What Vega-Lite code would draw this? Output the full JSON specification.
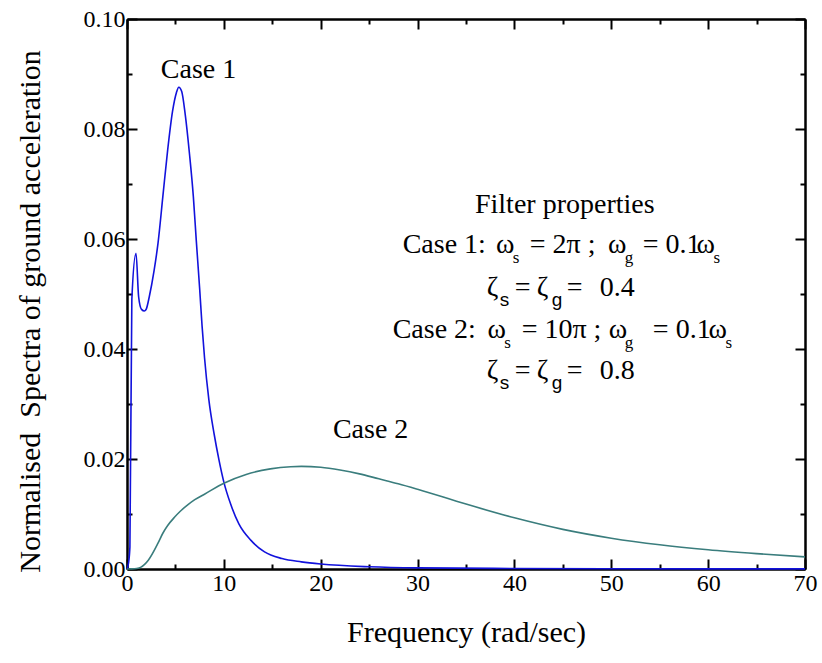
{
  "$schema": "https://vega.github.io/schema/vega-lite/v6.json",
  "width": 678,
  "height": 550,
  "autosize": "none",
  "padding": {"left": 127, "top": 19, "right": 17, "bottom": 94},
  "background": "white",
  "config": {
    "font": "Liberation Serif",
    "view": {"stroke": null}
  },
  "resolve": {"axis": {"x": "independent", "y": "independent"}},
  "layer": [
    {
      "data": {"values": [
        {"series": "Case 1", "f": 0, "s": 0},
        {"series": "Case 1", "f": 0.15, "s": 0.001},
        {"series": "Case 1", "f": 0.3, "s": 0.004},
        {"series": "Case 1", "f": 0.5, "s": 0.049},
        {"series": "Case 1", "f": 0.93, "s": 0.0574},
        {"series": "Case 1", "f": 1.2, "s": 0.0495},
        {"series": "Case 1", "f": 1.5, "s": 0.0472},
        {"series": "Case 1", "f": 1.8, "s": 0.0469},
        {"series": "Case 1", "f": 2.0, "s": 0.0473},
        {"series": "Case 1", "f": 2.3, "s": 0.0495},
        {"series": "Case 1", "f": 2.8, "s": 0.0543},
        {"series": "Case 1", "f": 3.2, "s": 0.0592},
        {"series": "Case 1", "f": 3.7, "s": 0.0677},
        {"series": "Case 1", "f": 4.2, "s": 0.0762},
        {"series": "Case 1", "f": 4.7, "s": 0.0832},
        {"series": "Case 1", "f": 5.1, "s": 0.0866},
        {"series": "Case 1", "f": 5.35, "s": 0.0876},
        {"series": "Case 1", "f": 5.65, "s": 0.0868},
        {"series": "Case 1", "f": 6.0, "s": 0.0828},
        {"series": "Case 1", "f": 6.45, "s": 0.0755},
        {"series": "Case 1", "f": 6.85, "s": 0.0677},
        {"series": "Case 1", "f": 7.15, "s": 0.0598},
        {"series": "Case 1", "f": 7.5, "s": 0.051},
        {"series": "Case 1", "f": 7.75, "s": 0.0442},
        {"series": "Case 1", "f": 8.0, "s": 0.0385},
        {"series": "Case 1", "f": 8.45, "s": 0.0308},
        {"series": "Case 1", "f": 9.0, "s": 0.0245},
        {"series": "Case 1", "f": 9.5, "s": 0.0198},
        {"series": "Case 1", "f": 10.0, "s": 0.0158},
        {"series": "Case 1", "f": 10.7, "s": 0.0118},
        {"series": "Case 1", "f": 11.55, "s": 0.0082},
        {"series": "Case 1", "f": 12.8, "s": 0.0052},
        {"series": "Case 1", "f": 14.2, "s": 0.0031},
        {"series": "Case 1", "f": 16, "s": 0.0019},
        {"series": "Case 1", "f": 18, "s": 0.0013},
        {"series": "Case 1", "f": 20, "s": 0.0009},
        {"series": "Case 1", "f": 25, "s": 0.0004},
        {"series": "Case 1", "f": 30, "s": 0.0002},
        {"series": "Case 1", "f": 40, "s": 0.0001},
        {"series": "Case 1", "f": 50, "s": 0.00005},
        {"series": "Case 1", "f": 70, "s": 0.00002},
        {"series": "Case 2", "f": 0, "s": 0},
        {"series": "Case 2", "f": 0.5, "s": 0.00002},
        {"series": "Case 2", "f": 1.0, "s": 0.0001},
        {"series": "Case 2", "f": 1.4, "s": 0.0003},
        {"series": "Case 2", "f": 2.2, "s": 0.0016},
        {"series": "Case 2", "f": 3.2, "s": 0.0047},
        {"series": "Case 2", "f": 3.7, "s": 0.0065},
        {"series": "Case 2", "f": 4.2, "s": 0.0079},
        {"series": "Case 2", "f": 4.9, "s": 0.0094},
        {"series": "Case 2", "f": 5.5, "s": 0.0105},
        {"series": "Case 2", "f": 6.3, "s": 0.0117},
        {"series": "Case 2", "f": 7, "s": 0.0126},
        {"series": "Case 2", "f": 8, "s": 0.0136},
        {"series": "Case 2", "f": 10, "s": 0.0156},
        {"series": "Case 2", "f": 12.3, "s": 0.0172},
        {"series": "Case 2", "f": 14.8, "s": 0.0182},
        {"series": "Case 2", "f": 16.9, "s": 0.0186},
        {"series": "Case 2", "f": 18, "s": 0.01866},
        {"series": "Case 2", "f": 20, "s": 0.0185},
        {"series": "Case 2", "f": 22, "s": 0.018},
        {"series": "Case 2", "f": 24, "s": 0.0173},
        {"series": "Case 2", "f": 26, "s": 0.0164},
        {"series": "Case 2", "f": 28, "s": 0.0155},
        {"series": "Case 2", "f": 30, "s": 0.0145},
        {"series": "Case 2", "f": 35, "s": 0.0118},
        {"series": "Case 2", "f": 40, "s": 0.0093},
        {"series": "Case 2", "f": 45, "s": 0.0072},
        {"series": "Case 2", "f": 50, "s": 0.0056},
        {"series": "Case 2", "f": 55, "s": 0.0044},
        {"series": "Case 2", "f": 60, "s": 0.0035},
        {"series": "Case 2", "f": 65, "s": 0.0028},
        {"series": "Case 2", "f": 70, "s": 0.0022}
      ]},
      "mark": {"type": "line", "strokeWidth": 1.6, "interpolate": "monotone"},
      "encoding": {
        "x": {"field": "f", "type": "quantitative",
          "scale": {"domain": [0, 70], "nice": false, "zero": false},
          "axis": {"orient": "bottom", "values": [0, 10, 20, 30, 40, 50, 60, 70], "tickSize": -10, "labelPadding": 12, "format": "d", "labelFlush": false, "labelOverlap": false,
            "title": "Frequency (rad/sec)", "titleBaseline": "middle", "titleY": 63,
            "domainColor": "black", "domainWidth": 2, "tickColor": "black", "tickWidth": 2, "grid": false,
            "labelFont": "Liberation Serif", "labelFontSize": 24, "labelColor": "black",
            "titleFont": "Liberation Serif", "titleFontSize": 30, "titleFontWeight": "normal", "titleColor": "black"}},
        "y": {"field": "s", "type": "quantitative",
          "scale": {"domain": [0, 0.1], "nice": false, "zero": false},
          "axis": {"orient": "left", "values": [0, 0.02, 0.04, 0.06, 0.08, 0.1], "tickSize": -10, "labelPadding": 12, "format": ".2f", "labelFlush": false, "labelOverlap": false,
            "title": "Normalised \u00a0Spectra of ground acceleration", "titleBaseline": "middle", "titleAlign": "center", "titleX": -97, "titleY": 292,
            "domainColor": "black", "domainWidth": 2, "tickColor": "black", "tickWidth": 2, "grid": false,
            "labelFont": "Liberation Serif", "labelFontSize": 24, "labelColor": "black",
            "titleFont": "Liberation Serif", "titleFontSize": 30, "titleFontWeight": "normal", "titleColor": "black"}},
        "color": {"field": "series", "type": "nominal",
          "scale": {"domain": ["Case 1", "Case 2"], "range": ["#1212dc", "#3a7d7d"]},
          "legend": null},
        "order": {"field": "f", "type": "quantitative"}
      }
    },
    {
      "data": {"values": [
        {"x": 7.39, "y": 0.0907, "t": "Case 1"},
        {"x": 25.15, "y": 0.0252, "t": "Case 2"},
        {"x": 45.2, "y": 0.06615, "t": "Filter properties"},
        {"x": 39.05, "y": 0.05887, "t": "ω"},
        {"x": 50.62, "y": 0.05887, "t": "ω"},
        {"x": 59.76, "y": 0.05887, "t": "ω"},
        {"x": 38.17, "y": 0.0434, "t": "ω"},
        {"x": 50.7, "y": 0.0434, "t": "ω"},
        {"x": 61.0, "y": 0.0434, "t": "ω"}
      ]},
      "mark": {"type": "text", "fontSize": 28, "align": "center", "baseline": "middle", "color": "black", "font": "Liberation Serif"},
      "encoding": {
        "x": {"field": "x", "type": "quantitative", "scale": {"domain": [0, 70], "nice": false},
          "axis": {"orient": "bottom", "values": [5, 15, 25, 35, 45, 55, 65], "tickSize": -5, "labels": false, "title": null,
            "domainColor": "black", "domainWidth": 2, "tickColor": "black", "tickWidth": 2, "grid": false}},
        "y": {"field": "y", "type": "quantitative", "scale": {"domain": [0, 0.1], "nice": false},
          "axis": {"orient": "left", "values": [0.01, 0.03, 0.05, 0.07, 0.09], "tickSize": -5, "labels": false, "title": null,
            "domainColor": "black", "domainWidth": 2, "tickColor": "black", "tickWidth": 2, "grid": false}},
        "text": {"field": "t"}
      }
    },
    {
      "data": {"values": [
        {"x": 28.46, "y": 0.05887, "t": "Case 1:"},
        {"x": 41.58, "y": 0.05887, "t": "= 2π ;"},
        {"x": 53.25, "y": 0.05887, "t": "= 0.1"},
        {"x": 37.14, "y": 0.05105, "t": "ζ"},
        {"x": 40.03, "y": 0.05105, "t": "="},
        {"x": 42.3, "y": 0.05105, "t": "ζ"},
        {"x": 45.4, "y": 0.05105, "t": "="},
        {"x": 48.8, "y": 0.05105, "t": "0.4"},
        {"x": 27.43, "y": 0.0434, "t": "Case 2:"},
        {"x": 40.75, "y": 0.0434, "t": "= 10π ;"},
        {"x": 54.29, "y": 0.0434, "t": "= 0.1"},
        {"x": 37.14, "y": 0.03594, "t": "ζ"},
        {"x": 40.03, "y": 0.03594, "t": "="},
        {"x": 42.3, "y": 0.03594, "t": "ζ"},
        {"x": 45.4, "y": 0.03594, "t": "="},
        {"x": 48.8, "y": 0.03594, "t": "0.8"}
      ]},
      "mark": {"type": "text", "fontSize": 28, "align": "left", "baseline": "middle", "color": "black", "font": "Liberation Serif"},
      "encoding": {
        "x": {"field": "x", "type": "quantitative", "scale": {"domain": [0, 70], "nice": false},
          "axis": {"orient": "top", "values": [0, 10, 20, 30, 40, 50, 60, 70], "tickSize": -10, "labels": false, "title": null,
            "domainColor": "black", "domainWidth": 2, "tickColor": "black", "tickWidth": 2, "grid": false}},
        "y": {"field": "y", "type": "quantitative", "scale": {"domain": [0, 0.1], "nice": false},
          "axis": {"orient": "right", "values": [0, 0.02, 0.04, 0.06, 0.08, 0.1], "tickSize": -10, "labels": false, "title": null,
            "domainColor": "black", "domainWidth": 2, "tickColor": "black", "tickWidth": 2, "grid": false}},
        "text": {"field": "t"}
      }
    },
    {
      "data": {"values": [
        {"x": 39.82, "y": 0.05651, "t": "s"},
        {"x": 51.4, "y": 0.05651, "t": "g"},
        {"x": 60.55, "y": 0.05651, "t": "s"},
        {"x": 38.95, "y": 0.04104, "t": "s"},
        {"x": 51.4, "y": 0.04104, "t": "g"},
        {"x": 61.8, "y": 0.04104, "t": "s"}
      ]},
      "mark": {"type": "text", "fontSize": 17, "align": "left", "baseline": "middle", "color": "black", "font": "Liberation Serif"},
      "encoding": {
        "x": {"field": "x", "type": "quantitative", "scale": {"domain": [0, 70], "nice": false},
          "axis": {"orient": "top", "values": [5, 15, 25, 35, 45, 55, 65], "tickSize": -5, "labels": false, "title": null,
            "domainColor": "black", "domainWidth": 2, "tickColor": "black", "tickWidth": 2, "grid": false}},
        "y": {"field": "y", "type": "quantitative", "scale": {"domain": [0, 0.1], "nice": false},
          "axis": {"orient": "right", "values": [0.01, 0.03, 0.05, 0.07, 0.09], "tickSize": -5, "labels": false, "title": null,
            "domainColor": "black", "domainWidth": 2, "tickColor": "black", "tickWidth": 2, "grid": false}},
        "text": {"field": "t"}
      }
    },
    {
      "data": {"values": [
        {"x": 38.48, "y": 0.04886, "t": "s"},
        {"x": 43.85, "y": 0.04886, "t": "g"},
        {"x": 38.48, "y": 0.03376, "t": "s"},
        {"x": 43.85, "y": 0.03376, "t": "g"}
      ]},
      "mark": {"type": "text", "fontSize": 19, "align": "left", "baseline": "middle", "color": "black", "font": "Liberation Sans"},
      "encoding": {
        "x": {"field": "x", "type": "quantitative", "scale": {"domain": [0, 70], "nice": false}, "axis": null},
        "y": {"field": "y", "type": "quantitative", "scale": {"domain": [0, 0.1], "nice": false}, "axis": null},
        "text": {"field": "t"}
      }
    }
  ]
}
